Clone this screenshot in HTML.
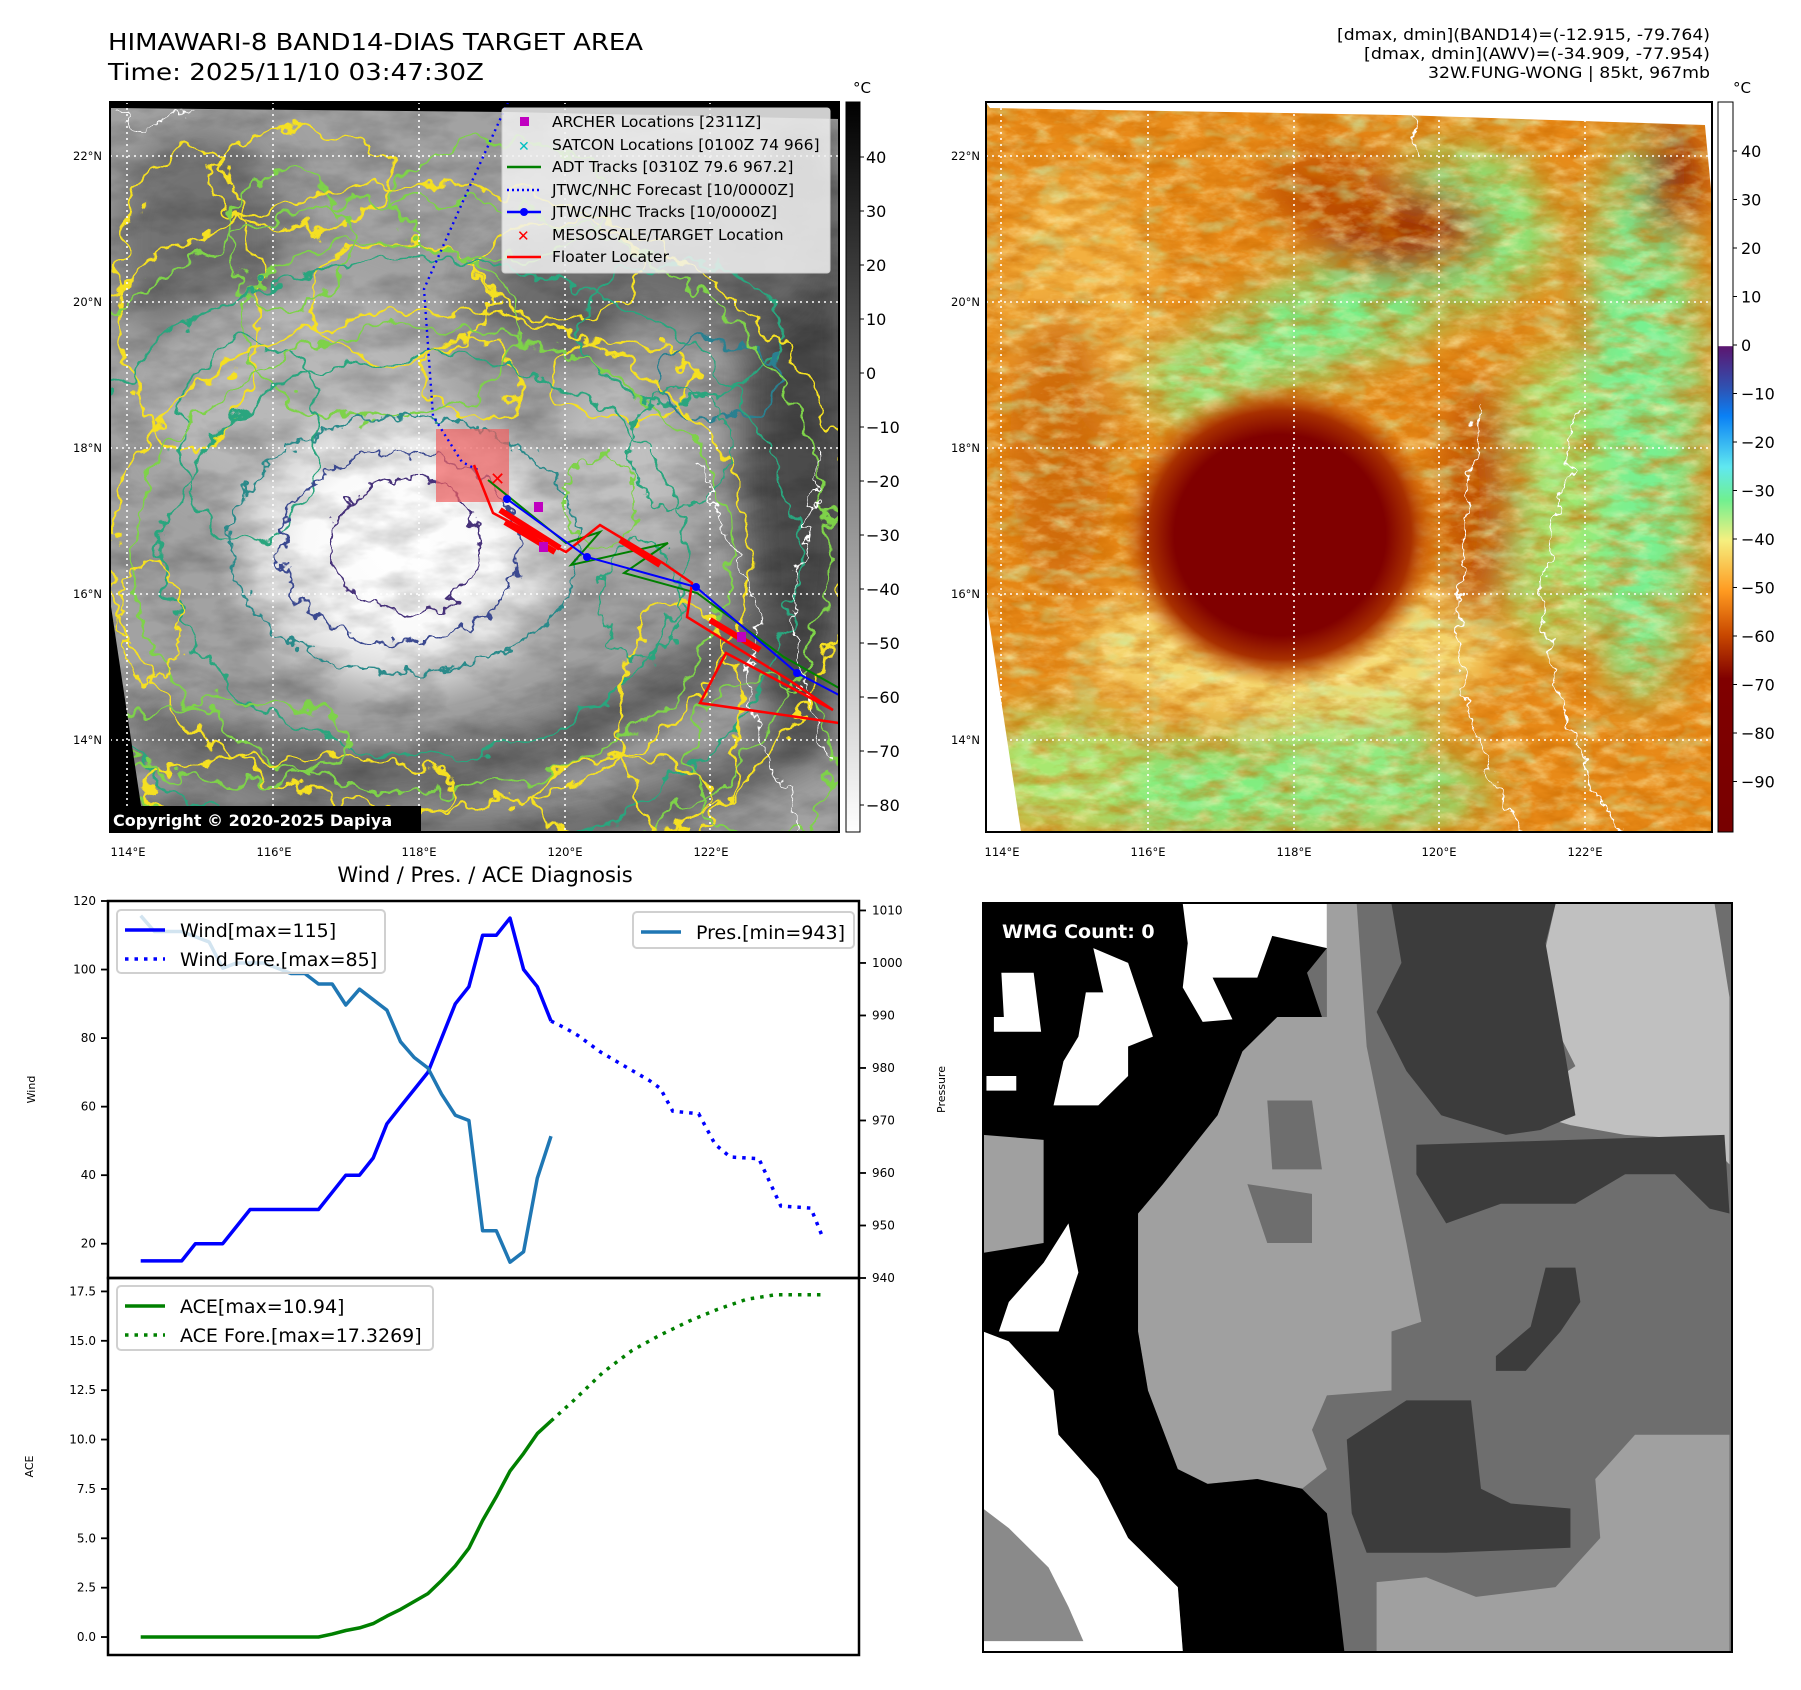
<!DOCTYPE html>
<html><head><meta charset="utf-8"><title>HIMAWARI-8 BAND14-DIAS TARGET AREA</title>
<style>
html,body{margin:0;padding:0;background:#fff;}
svg{display:block;font-family:"DejaVu Sans","Liberation Sans",sans-serif;}
</style></head>
<body>
<svg id="root" xmlns="http://www.w3.org/2000/svg" width="1801" height="1690" viewBox="0 0 1801 1690">
<defs>
  <filter id="wob" x="-10%" y="-10%" width="120%" height="120%">
    <feTurbulence type="fractalNoise" baseFrequency="0.035" numOctaves="3" seed="4" result="n"/>
    <feDisplacementMap in="SourceGraphic" in2="n" scale="38" xChannelSelector="R" yChannelSelector="G"/>
  </filter>
  <filter id="wob2" x="-10%" y="-10%" width="120%" height="120%">
    <feTurbulence type="fractalNoise" baseFrequency="0.06" numOctaves="3" seed="9" result="n"/>
    <feDisplacementMap in="SourceGraphic" in2="n" scale="26" xChannelSelector="R" yChannelSelector="G"/>
  </filter>
  <filter id="blur20"><feGaussianBlur stdDeviation="20"/></filter>
  <filter id="noiseDark" x="0" y="0" width="100%" height="100%">
    <feTurbulence type="fractalNoise" baseFrequency="0.018 0.04" numOctaves="4" seed="2"/>
    <feColorMatrix values="0 0 0 0 0  0 0 0 0 0  0 0 0 0 0  1.6 0 0 0 -0.6"/>
  </filter>
  <filter id="noiseRed" x="0" y="0" width="100%" height="100%">
    <feTurbulence type="fractalNoise" baseFrequency="0.03 0.07" numOctaves="4" seed="7"/>
    <feColorMatrix values="0 0 0 0 0.6  0 0 0 0 0.15  0 0 0 0 0  1.9 0 0 0 -0.75"/>
  </filter>
  <filter id="noiseYellow" x="0" y="0" width="100%" height="100%">
    <feTurbulence type="fractalNoise" baseFrequency="0.04 0.08" numOctaves="4" seed="21"/>
    <feColorMatrix values="0 0 0 0 0.98  0 0 0 0 0.85  0 0 0 0 0.4  2.0 0 0 0 -0.85"/>
  </filter>
  <filter id="noiseGreen" x="0" y="0" width="100%" height="100%">
    <feTurbulence type="fractalNoise" baseFrequency="0.03 0.06" numOctaves="3" seed="11"/>
    <feColorMatrix values="0 0 0 0 0.5  0 0 0 0 0.95  0 0 0 0 0.5  1.8 0 0 0 -0.95"/>
  </filter>
  <radialGradient id="eyeL" cx="0.5" cy="0.5" r="0.5">
    <stop offset="0" stop-color="#ffffff"/><stop offset="0.5" stop-color="#fafafa"/>
    <stop offset="0.75" stop-color="#dcdcdc"/><stop offset="1" stop-color="#d0d0d0" stop-opacity="0"/>
  </radialGradient>
  <radialGradient id="eyeR" cx="0.5" cy="0.5" r="0.5">
    <stop offset="0" stop-color="#800000"/><stop offset="0.66" stop-color="#800000"/>
    <stop offset="0.82" stop-color="#a83000"/><stop offset="1" stop-color="#d06000" stop-opacity="0"/>
  </radialGradient>
  <linearGradient id="cbGray" x1="0" y1="0" x2="0" y2="1">
    <stop offset="0" stop-color="#000"/><stop offset="1" stop-color="#fff"/>
  </linearGradient>
  <linearGradient id="cbColor" x1="0" y1="0" x2="0" y2="1">
    <stop offset="0" stop-color="#fff"/><stop offset="0.334" stop-color="#fff"/>
    <stop offset="0.335" stop-color="#5c1670"/><stop offset="0.39" stop-color="#3050b0"/>
    <stop offset="0.43" stop-color="#0a80f5"/><stop offset="0.5" stop-color="#60e8f0"/>
    <stop offset="0.545" stop-color="#70f090"/><stop offset="0.6" stop-color="#f5f080"/>
    <stop offset="0.67" stop-color="#ff9a20"/><stop offset="0.73" stop-color="#c84800"/>
    <stop offset="0.79" stop-color="#800000"/><stop offset="1" stop-color="#780000"/>
  </linearGradient>
  <clipPath id="clipL"><rect x="110" y="102" width="729" height="730"/></clipPath>
  <clipPath id="clipR"><rect x="986" y="102" width="726" height="730"/></clipPath>
  <clipPath id="clipB"><rect x="983" y="903" width="749" height="749"/></clipPath>
</defs>

<text x="108" y="50" font-size="23" textLength="535" lengthAdjust="spacingAndGlyphs">HIMAWARI-8 BAND14-DIAS TARGET AREA</text>
<text x="108" y="80" font-size="23" textLength="376" lengthAdjust="spacingAndGlyphs">Time: 2025/11/10 03:47:30Z</text>
<g font-size="16" text-anchor="end">
  <text x="1710" y="40" textLength="373" lengthAdjust="spacingAndGlyphs">[dmax, dmin](BAND14)=(-12.915, -79.764)</text>
  <text x="1710" y="59" textLength="346" lengthAdjust="spacingAndGlyphs">[dmax, dmin](AWV)=(-34.909, -77.954)</text>
  <text x="1710" y="78" textLength="282" lengthAdjust="spacingAndGlyphs">32W.FUNG-WONG | 85kt, 967mb</text>
</g>

<!-- LEFT MAP -->
<g clip-path="url(#clipL)">
  <rect x="110" y="102" width="729" height="730" fill="#a2a2a2"/>
  <g filter="url(#blur20)">
    <ellipse cx="200" cy="240" rx="90" ry="110" fill="#727272"/>
    <ellipse cx="560" cy="300" rx="80" ry="60" fill="#6c6c6c"/>
    <ellipse cx="800" cy="430" rx="60" ry="320" fill="#4c4c4c"/>
    <ellipse cx="720" cy="250" rx="100" ry="80" fill="#6c6c6c"/>
    <path d="M150 720 Q 420 870 770 620" stroke="#5c5c5c" stroke-width="45" fill="none"/>
    <path d="M130 810 Q 500 910 830 730" stroke="#555" stroke-width="35" fill="none"/>
    <ellipse cx="620" cy="470" rx="70" ry="90" fill="#c0c0c0"/>
    <ellipse cx="300" cy="400" rx="150" ry="110" fill="#b8b8b8"/>
  </g>
  <ellipse cx="400" cy="548" rx="190" ry="165" fill="url(#eyeL)"/>
  <rect x="110" y="102" width="729" height="730" filter="url(#noiseDark)" opacity="0.25"/>
  <g fill="none" stroke-width="2.6" filter="url(#wob)">
    <ellipse cx="190" cy="300" rx="70" ry="150" stroke="#f5e020"/>
    <ellipse cx="400" cy="300" rx="90" ry="60" stroke="#f5e020"/>
    <ellipse cx="560" cy="270" rx="80" ry="50" stroke="#f5e020"/>
    <ellipse cx="620" cy="380" rx="70" ry="40" stroke="#f5e020"/>
    <ellipse cx="300" cy="180" rx="90" ry="50" stroke="#f5e020"/>
    <ellipse cx="470" cy="380" rx="50" ry="40" stroke="#f5e020"/>
    <ellipse cx="290" cy="240" rx="60" ry="70" stroke="#7ed24a"/>
    <ellipse cx="500" cy="200" rx="110" ry="60" stroke="#7ed24a"/>
    <ellipse cx="380" cy="330" rx="140" ry="90" stroke="#7ed24a"/>
    <ellipse cx="680" cy="330" rx="100" ry="70" stroke="#2aa57e"/>
    <ellipse cx="720" cy="380" rx="60" ry="40" stroke="#2a8090"/>
    <ellipse cx="250" cy="440" rx="70" ry="100" stroke="#2aa57e"/>
    <ellipse cx="430" cy="560" rx="320" ry="250" stroke="#f5e020"/>
    <ellipse cx="430" cy="560" rx="300" ry="232" stroke="#7ed24a"/>
    <ellipse cx="425" cy="555" rx="260" ry="200" stroke="#2aa57e"/>
    <ellipse cx="420" cy="545" rx="430" ry="360" stroke="#f5e020"/>
    <ellipse cx="420" cy="545" rx="410" ry="345" stroke="#7ed24a"/>
    <ellipse cx="420" cy="560" rx="380" ry="300" stroke="#2aa57e"/>
    <ellipse cx="680" cy="720" rx="60" ry="120" stroke="#f5e020"/>
    <ellipse cx="760" cy="760" rx="70" ry="80" stroke="#7ed24a"/>
    <ellipse cx="620" cy="800" rx="90" ry="40" stroke="#f5e020"/>
    <ellipse cx="300" cy="790" rx="160" ry="35" stroke="#f5e020"/>
    <ellipse cx="230" cy="740" rx="120" ry="40" stroke="#7ed24a"/>
  </g>
  <g fill="none" stroke-width="2.4" filter="url(#wob2)">
    <ellipse cx="405" cy="545" rx="175" ry="128" stroke="#2a8a8a"/>
    <ellipse cx="400" cy="548" rx="120" ry="95" stroke="#3b4a90"/>
    <ellipse cx="405" cy="545" rx="75" ry="68" stroke="#46307a"/>
    <ellipse cx="640" cy="600" rx="40" ry="60" stroke="#2aa57e"/>
    <ellipse cx="600" cy="500" rx="35" ry="45" stroke="#7ed24a"/>
    <ellipse cx="150" cy="620" rx="30" ry="60" stroke="#f5e020"/>
    <ellipse cx="680" cy="450" rx="50" ry="60" stroke="#2aa57e"/>
  </g>
  <g fill="none" stroke="#fff" stroke-width="1.3" filter="url(#wob2)">
    <path d="M700 460 L720 520 L745 570 L760 620 L745 680 L760 740 L790 800 L800 832"/>
    <path d="M820 450 L810 520 L790 600 L800 680 L830 760"/>
    <path d="M115 108 L140 130 L170 118 L200 110"/>
  </g>
  <polygon points="110,100 839,100 839,119 508,112 110,108" fill="#000"/>
  <polygon points="110,600 145,832 110,832" fill="#000"/>
  <g stroke="#fff" stroke-width="1.6" stroke-dasharray="2,4">
    <line x1="127" y1="102" x2="127" y2="832"/><line x1="273" y1="102" x2="273" y2="832"/>
    <line x1="419" y1="102" x2="419" y2="832"/><line x1="565" y1="102" x2="565" y2="832"/>
    <line x1="710" y1="102" x2="710" y2="832"/>
    <line x1="110" y1="156" x2="839" y2="156"/><line x1="110" y1="302" x2="839" y2="302"/>
    <line x1="110" y1="448" x2="839" y2="448"/><line x1="110" y1="594" x2="839" y2="594"/>
    <line x1="110" y1="740" x2="839" y2="740"/>
  </g>
  <rect x="436" y="429" width="73" height="73" fill="#f06060" opacity="0.7"/>
  <polyline points="508,102 468,190 424,289 433,416 462,462 478,470" fill="none" stroke="#0000ff" stroke-width="2.4" stroke-dasharray="2,4"/>
  <polyline points="488,480 566,543 600,532 571,565 668,543 624,573 697,593 784,657 839,688" fill="none" stroke="#008000" stroke-width="2"/>
  <polyline points="474,465 493,513 566,552 600,525 663,563 692,583 687,617 789,680 833,710 726,653 700,703 839,723" fill="none" stroke="#ff0000" stroke-width="2.5"/>
  <g stroke="#ff0000" stroke-width="6">
    <line x1="500" y1="510" x2="560" y2="548"/><line x1="505" y1="522" x2="555" y2="552"/>
    <line x1="620" y1="540" x2="660" y2="565"/><line x1="710" y1="620" x2="760" y2="650"/>
  </g>
  <polyline points="507,499 587,557 696,587 797,673 839,695" fill="none" stroke="#0000ff" stroke-width="2"/>
  <g fill="#0000ff"><circle cx="507" cy="499" r="4"/><circle cx="587" cy="557" r="4"/><circle cx="696" cy="587" r="4"/><circle cx="797" cy="673" r="4"/></g>
  <g fill="#c000c0">
    <rect x="534" y="502" width="9" height="10"/><rect x="539" y="542" width="9" height="10"/><rect x="737" y="632" width="9" height="10"/>
  </g>
  <text x="490" y="485" fill="#ff0000" font-size="18" font-weight="bold">✕</text>
  <g>
    <rect x="502" y="108" width="328" height="165" rx="3" fill="#f2f2f2" fill-opacity="0.85" stroke="#ccc"/>
    <g font-size="15.5" fill="#000">
      <rect x="520" y="117" width="9" height="9" fill="#c000c0"/>
      <text x="552" y="127">ARCHER Locations [2311Z]</text>
      <text x="518" y="151" fill="#00c0c0" font-size="14" font-weight="bold">✕</text>
      <text x="552" y="150">SATCON Locations [0100Z 74 966]</text>
      <line x1="507" y1="167" x2="541" y2="167" stroke="#008000" stroke-width="2.5"/>
      <text x="552" y="172">ADT Tracks [0310Z 79.6 967.2]</text>
      <line x1="507" y1="190" x2="541" y2="190" stroke="#0000ff" stroke-width="2.5" stroke-dasharray="2,3"/>
      <text x="552" y="195">JTWC/NHC Forecast [10/0000Z]</text>
      <line x1="507" y1="212" x2="541" y2="212" stroke="#0000ff" stroke-width="2.5"/><circle cx="524" cy="212" r="4" fill="#0000ff"/>
      <text x="552" y="217">JTWC/NHC Tracks [10/0000Z]</text>
      <text x="517" y="241" fill="#ff0000" font-size="15" font-weight="bold">✕</text>
      <text x="552" y="240">MESOSCALE/TARGET Location</text>
      <line x1="507" y1="257" x2="541" y2="257" stroke="#ff0000" stroke-width="2.5"/>
      <text x="552" y="262">Floater Locater</text>
    </g>
  </g>
  <rect x="110" y="806" width="311" height="26" fill="#000"/>
  <text x="113" y="826" fill="#fff" font-size="16" font-weight="bold">Copyright © 2020-2025 Dapiya</text>
</g>
<rect x="110" y="102" width="729" height="730" fill="none" stroke="#000" stroke-width="2"/>
<g font-size="11.5">
  <g text-anchor="end"><text x="102" y="160">22°N</text><text x="102" y="306">20°N</text><text x="102" y="452">18°N</text><text x="102" y="598">16°N</text><text x="102" y="744">14°N</text></g>
  <g text-anchor="middle"><text x="128" y="856">114°E</text><text x="274" y="856">116°E</text><text x="419" y="856">118°E</text><text x="565" y="856">120°E</text><text x="711" y="856">122°E</text></g>
</g>
<g>
  <rect x="846" y="102" width="14" height="730" fill="url(#cbGray)" stroke="#000" stroke-width="1"/>
  <text x="862" y="93" font-size="15" text-anchor="middle">°C</text>
  <g font-size="16" id="cb1labels"></g>
</g>

<!-- RIGHT MAP -->
<g clip-path="url(#clipR)">
  <rect x="986" y="102" width="726" height="730" fill="#e88a18"/>
  <g filter="url(#blur20)">
    <ellipse cx="1080" cy="300" rx="80" ry="130" fill="#f3b040"/>
    <ellipse cx="1330" cy="320" rx="150" ry="50" fill="#78f088" transform="rotate(-20 1330 320)"/>
    <ellipse cx="1200" cy="380" rx="60" ry="40" fill="#90ec80"/>
    <ellipse cx="1460" cy="230" rx="90" ry="80" fill="#80ee80"/>
    <ellipse cx="1640" cy="420" rx="60" ry="280" fill="#78f090"/>
    <ellipse cx="1550" cy="500" rx="50" ry="150" fill="#a0e870"/>
    <ellipse cx="1240" cy="790" rx="250" ry="50" fill="#80ee80"/>
    <ellipse cx="1060" cy="770" rx="80" ry="60" fill="#a8e870"/>
    <ellipse cx="1350" cy="720" rx="80" ry="80" fill="#90ea80"/>
    <ellipse cx="1290" cy="650" rx="210" ry="70" fill="#f5d870"/>
    <ellipse cx="1400" cy="230" rx="90" ry="50" fill="#a03000"/>
    <ellipse cx="1670" cy="180" rx="30" ry="60" fill="#902000"/>
    <ellipse cx="1330" cy="190" rx="70" ry="40" fill="#c05000"/>
    <ellipse cx="1480" cy="500" rx="40" ry="120" fill="#c05000"/>
    <ellipse cx="1060" cy="450" rx="50" ry="140" fill="#d06c10"/>
  </g>
  <rect x="986" y="102" width="726" height="730" filter="url(#noiseYellow)" opacity="0.7"/>
  <rect x="986" y="102" width="726" height="730" filter="url(#noiseRed)" opacity="0.7"/>
  <rect x="986" y="102" width="726" height="730" filter="url(#noiseGreen)" opacity="0.7"/>
  <ellipse cx="1280" cy="535" rx="160" ry="152" fill="url(#eyeR)"/>
  <g fill="none" stroke="#fff" stroke-width="1.5" filter="url(#wob2)">
    <path d="M1478 410 L1470 470 L1462 560 L1458 640 L1470 720 L1500 790 L1520 832"/>
    <path d="M1580 410 L1560 500 L1540 600 L1560 700 L1590 780 L1620 832"/>
    <path d="M1410 102 L1420 160"/>
  </g>
  <polygon points="984,100 1712,100 1712,125 1705,125 1400,115 990,108" fill="#fff"/>
  <polygon points="1704,115 1712,115 1712,200" fill="#fff"/>
  <polygon points="986,600 1021,832 986,832" fill="#fff"/>
  <g stroke="#fff" stroke-width="1.6" stroke-dasharray="2,4">
    <line x1="1001" y1="102" x2="1001" y2="832"/><line x1="1148" y1="102" x2="1148" y2="832"/>
    <line x1="1294" y1="102" x2="1294" y2="832"/><line x1="1439" y1="102" x2="1439" y2="832"/>
    <line x1="1585" y1="102" x2="1585" y2="832"/>
    <line x1="986" y1="156" x2="1712" y2="156"/><line x1="986" y1="302" x2="1712" y2="302"/>
    <line x1="986" y1="448" x2="1712" y2="448"/><line x1="986" y1="594" x2="1712" y2="594"/>
    <line x1="986" y1="740" x2="1712" y2="740"/>
  </g>
</g>
<rect x="986" y="102" width="726" height="730" fill="none" stroke="#000" stroke-width="2"/>
<g font-size="11.5">
  <g text-anchor="end"><text x="980" y="160">22°N</text><text x="980" y="306">20°N</text><text x="980" y="452">18°N</text><text x="980" y="598">16°N</text><text x="980" y="744">14°N</text></g>
  <g text-anchor="middle"><text x="1002" y="856">114°E</text><text x="1148" y="856">116°E</text><text x="1294" y="856">118°E</text><text x="1439" y="856">120°E</text><text x="1585" y="856">122°E</text></g>
</g>
<g>
  <rect x="1718" y="102" width="15" height="730" fill="url(#cbColor)" stroke="#000" stroke-width="1"/>
  <text x="1742" y="93" font-size="15" text-anchor="middle">°C</text>
  <g font-size="16" id="cb2labels"></g>
</g>

<!-- WMG PANEL -->
<g clip-path="url(#clipB)">
  <g transform="translate(979,899) scale(0.497,0.4915)">
    <rect x="0" y="0" width="1530" height="1540" fill="#6e6e6e"/>
    <polygon fill="#a0a0a0" points="600,240 700,240 700,10 760,10 780,300 820,500 860,700 890,860 830,880 830,1000 700,1010 670,1080 700,1160 650,1200 560,1180 460,1190 400,1160 340,1000 320,880 320,640 370,580 480,440 530,310"/>
    <polygon fill="#6e6e6e" points="540,580 670,600 670,700 580,700"/>
    <polygon fill="#6e6e6e" points="580,410 670,410 690,550 590,550"/>
    <polygon fill="#c0c0c0" points="1160,10 1480,10 1510,200 1510,540 1460,490 1300,480 1190,460 1120,440 1140,380 1200,340 1150,240 1100,240 1010,250 930,240 890,180 940,120 1080,120 1140,100"/>
    <polygon fill="#a0a0a0" points="1240,1180 1320,1090 1510,1090 1510,1530 1100,1530 800,1530 800,1390 900,1380 1000,1420 1160,1400 1250,1300"/>
    <polygon fill="#3c3c3c" points="830,10 1160,10 1140,90 1180,320 1200,440 1130,470 1060,480 930,440 860,350 800,230 850,130"/>
    <polygon fill="#3c3c3c" points="880,500 1500,480 1510,640 1470,630 1400,560 1300,560 1200,620 1050,620 940,660 880,560"/>
    <polygon fill="#3c3c3c" points="740,1100 860,1020 990,1020 1010,1200 1070,1230 1190,1240 1190,1320 940,1330 780,1330 750,1250"/>
    <polygon fill="#3c3c3c" points="1040,930 1110,870 1140,750 1200,750 1210,820 1170,880 1100,960 1040,960"/>
    <polygon fill="#000" points="8,8 700,8 700,100 660,150 690,240 600,240 530,310 480,440 370,580 320,640 320,880 340,1000 400,1160 460,1190 560,1180 650,1200 700,1250 720,1400 735,1530 410,1530 400,1400 300,1300 240,1180 160,1090 60,900 8,880"/>
    <polygon fill="#fff" points="410,10 700,10 700,100 590,75 560,160 470,160 510,245 450,250 410,180 420,90"/>
    <polygon fill="#fff" points="230,100 300,130 350,280 300,300 300,360 240,420 150,420 170,330 200,280 215,190 250,190"/>
    <polygon fill="#fff" points="45,150 110,150 125,270 30,270 30,240 50,240"/>
    <polygon fill="#fff" points="15,360 75,360 75,390 15,390"/>
    <polygon fill="#fff" points="8,880 60,900 150,1000 160,1090 240,1180 300,1300 400,1400 410,1530 8,1530"/>
    <polygon fill="#fff" points="40,880 60,820 130,740 180,660 200,760 160,880"/>
    <polygon fill="#a0a0a0" points="8,480 130,490 130,700 8,720"/>
    <polygon fill="#8a8a8a" points="8,1240 60,1280 140,1360 180,1440 210,1510 8,1510"/>
  </g>
  <text x="1002" y="938" fill="#fff" font-size="19" font-weight="bold">WMG Count: 0</text>
</g>
<rect x="983" y="903" width="749" height="749" fill="none" stroke="#000" stroke-width="2"/>

<!-- CHARTS -->
<text x="485" y="882" font-size="21" text-anchor="middle">Wind / Pres. / ACE Diagnosis</text>
<g id="charts"></g>
</svg>

<script>
const obsIdx = [0,1,2,3,4,5,6,7,8,9,10,11,12,13,14,15,16,17,18,19,20,21,22,23,24,25,26,27,28,29,30];
const windObs = [15,15,15,15,20,20,20,25,30,30,30,30,30,30,35,40,40,45,55,60,65,70,80,90,95,110,110,115,100,95,85];
const presObs = [1009,1006,1006,1006,1005,1004,999,1000,1000,1000,999,998,998,996,996,992,995,993,991,985,982,980,975,971,970,949,949,943,945,959,967];
const aceObs = [0,0,0,0,0,0,0,0,0,0,0,0,0,0,0.15,0.33,0.46,0.68,1.06,1.4,1.8,2.2,2.86,3.6,4.5,5.9,7.1,8.4,9.3,10.3,10.94];
const foreIdx = [30,31,32,33.6,35.3,37.2,38,38.9,40.8,42,43.1,45.2,46.8,49,49.8];
const windFore = [85,83,80.7,76,72,67.6,65.3,58.7,57.9,49,45.3,44.8,31,30.4,22.5];
const aceForeIdx = [30,31.7,33.8,35.9,38,40.1,42.2,44.3,46.4,49.8];
const aceFore = [10.94,12.0,13.4,14.5,15.3,16.0,16.6,17.1,17.33,17.33];
const windTicks = [20,40,60,80,100,120];
const presTicks = [940,950,960,970,980,990,1000,1010];
const aceTicks = [0.0,2.5,5.0,7.5,10.0,12.5,15.0,17.5];
const cb1Ticks = [40,30,20,10,0,-10,-20,-30,-40,-50,-60,-70,-80];
const cb2Ticks = [40,30,20,10,0,-10,-20,-30,-40,-50,-60,-70,-80,-90];

const NS = 'http://www.w3.org/2000/svg';
const X0 = 108, X1 = 859, Y0 = 901, YM = 1278, Y1 = 1655;
const xDom = [-2.39, 52.52];
const sx = v => X0 + (v - xDom[0]) / (xDom[1] - xDom[0]) * (X1 - X0);
const syWind = v => YM - (v - 10) / (120 - 10) * (YM - Y0);
const syPres = v => YM - (v - 940) / (1011.8 - 940) * (YM - Y0);
const syAce = v => Y1 - (v + 0.91) / (18.18 + 0.91) * (Y1 - YM);
const cb1 = v => 157 + (40 - v) * 5.4;
const cb2 = v => 151 + (40 - v) * 4.85;

function mk(tag, attrs, parent) {
  const e = document.createElementNS(NS, tag);
  for (const k in attrs) e.setAttribute(k, attrs[k]);
  parent.appendChild(e);
  return e;
}
const g = document.getElementById('charts');
function pts(xs, ys, fx, fy) { return xs.map((x, i) => fx(x).toFixed(1) + ',' + fy(ys[i]).toFixed(1)).join(' '); }

let r1 = mk('rect', {x: X0, y: Y0, width: X1 - X0, height: YM - Y0, fill: 'none', stroke: '#000', 'stroke-width': 2.5}, g);


let r2 = mk('rect', {x: X0, y: YM, width: X1 - X0, height: Y1 - YM, fill: 'none', stroke: '#000', 'stroke-width': 2.5}, g);



windTicks.forEach(t => {
  const y = syWind(t);
  mk('line', {x1: X0 - 7, x2: X0, y1: y, y2: y, stroke: '#000', 'stroke-width': 1.8}, g);
  const tx = mk('text', {x: X0 - 12, y: y + 4, 'font-size': 12, 'text-anchor': 'end'}, g);
  tx.textContent = t;
  
  
});
presTicks.forEach(t => {
  const y = syPres(t);
  mk('line', {x1: X1, x2: X1 + 7, y1: y, y2: y, stroke: '#000', 'stroke-width': 1.8}, g);
  const tx = mk('text', {x: X1 + 13, y: y + 4, 'font-size': 12}, g);
  tx.textContent = t;
  
  
});
aceTicks.forEach(t => {
  const y = syAce(t);
  mk('line', {x1: X0 - 7, x2: X0, y1: y, y2: y, stroke: '#000', 'stroke-width': 1.8}, g);
  const tx = mk('text', {x: X0 - 12, y: y + 4, 'font-size': 12, 'text-anchor': 'end'}, g);
  tx.textContent = t.toFixed(1);
  
  
});
[['Wind', 35, (Y0 + YM) / 2, 'wind-axis-title'], ['ACE', 33, (YM + Y1) / 2, 'ace-axis-title'], ['Pressure', 945, (Y0 + YM) / 2, 'pressure-axis-title']].forEach(a => {
  const tx = mk('text', {x: a[1], y: a[2], 'font-size': 11, 'text-anchor': 'middle', transform: 'rotate(-90 ' + a[1] + ' ' + a[2] + ')'}, g);
  tx.textContent = a[0];
  
  
});

let l;
l = mk('polyline', {points: pts(obsIdx, windObs, sx, syWind), fill: 'none', stroke: '#0000ff', 'stroke-width': 3.5, 'stroke-linejoin': 'round'}, g);


l = mk('polyline', {points: pts(foreIdx, windFore, sx, syWind), fill: 'none', stroke: '#0000ff', 'stroke-width': 3.5, 'stroke-dasharray': '3.5,6'}, g);


l = mk('polyline', {points: pts(obsIdx, presObs, sx, syPres), fill: 'none', stroke: '#1f77b4', 'stroke-width': 3.5, 'stroke-linejoin': 'round'}, g);


l = mk('polyline', {points: pts(obsIdx, aceObs, sx, syAce), fill: 'none', stroke: '#008000', 'stroke-width': 3.5, 'stroke-linejoin': 'round'}, g);


l = mk('polyline', {points: pts(aceForeIdx, aceFore, sx, syAce), fill: 'none', stroke: '#008000', 'stroke-width': 3.5, 'stroke-dasharray': '3.5,6'}, g);



function legend(x, y, w, h, rows, name) {
  const lg = mk('g', {}, g);
  
  
  mk('rect', {x: x, y: y, width: w, height: h, rx: 4, fill: '#fff', 'fill-opacity': 0.8, stroke: '#d0d0d0', 'stroke-width': 2}, lg);
  rows.forEach((r, i) => {
    const cy = y + 20 + i * 29;
    const a = {x1: x + 8, x2: x + 48, y1: cy, y2: cy, stroke: r[1], 'stroke-width': 3.5};
    if (r[2]) a['stroke-dasharray'] = '3.5,6';
    mk('line', a, lg);
    const tx = mk('text', {x: x + 63, y: cy + 7, 'font-size': 19}, lg);
    tx.textContent = r[0];
  });
}
legend(117, 910, 268, 63, [['Wind[max=115]', '#0000ff', false], ['Wind Fore.[max=85]', '#0000ff', true]], 'wind-legend');
legend(633, 912, 221, 36, [['Pres.[min=943]', '#1f77b4', false]], 'pressure-legend');
legend(117, 1286, 316, 64, [['ACE[max=10.94]', '#008000', false], ['ACE Fore.[max=17.3269]', '#008000', true]], 'ace-legend');

const c1 = document.getElementById('cb1labels');
cb1Ticks.forEach(t => {
  const y = cb1(t);
  mk('line', {x1: 860, x2: 864, y1: y, y2: y, stroke: '#000'}, c1);
  const tx = mk('text', {x: 866, y: y + 6}, c1);
  tx.textContent = t < 0 ? '\u2212' + (-t) : t;
  
  
});
const c2 = document.getElementById('cb2labels');
cb2Ticks.forEach(t => {
  const y = cb2(t);
  mk('line', {x1: 1733, x2: 1737, y1: y, y2: y, stroke: '#000'}, c2);
  const tx = mk('text', {x: 1741, y: y + 6}, c2);
  tx.textContent = t < 0 ? '\u2212' + (-t) : t;
  
  
});
</script>
</body></html>
